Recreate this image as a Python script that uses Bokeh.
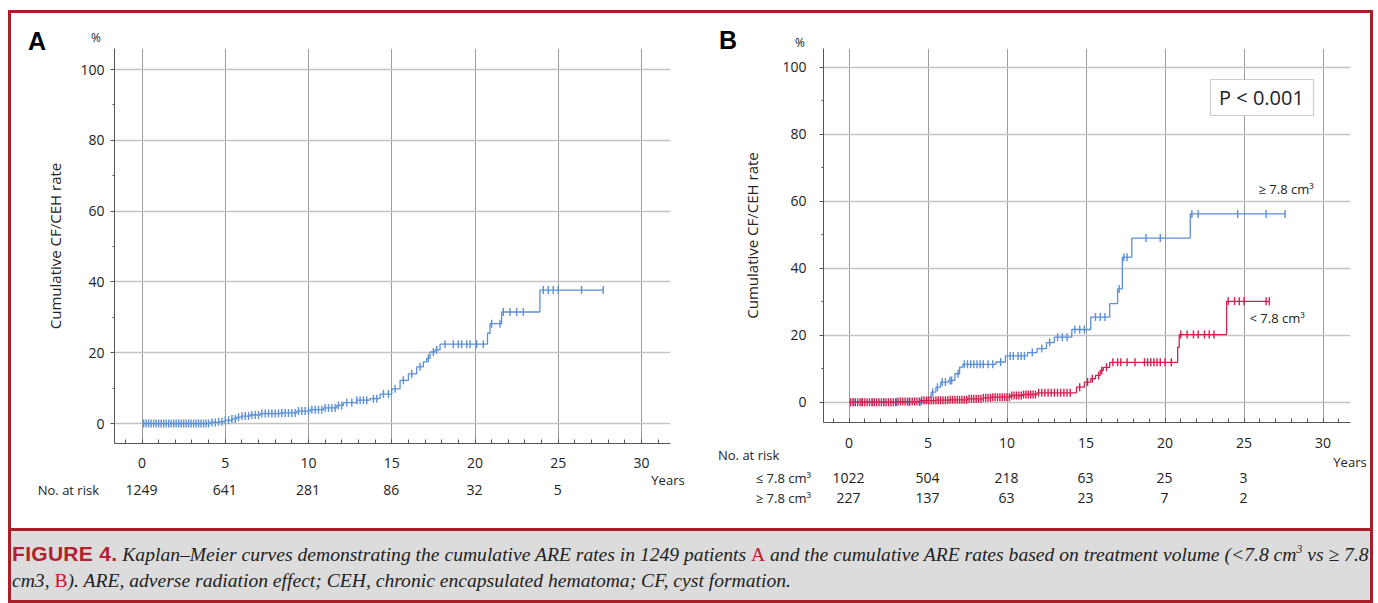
import numpy as np
from bokeh.plotting import figure
from bokeh.models import Range1d, FixedTicker, BoxAnnotation, Div, Label
from bokeh.layouts import row, column
from bokeh.core.properties import value
from bokeh.embed import file_html
from bokeh.resources import INLINE

# ---------------- data ----------------
x_ticks = [0, 5, 10, 15, 20, 25, 30]
y_ticks = [0, 20, 40, 60, 80, 100]
risk_years = [0, 5, 10, 15, 20, 25]

# Panel A: all patients
A_t = [0, 4.1, 4.6, 5.0, 5.4, 5.7, 6.0, 6.5, 7.1, 8.3, 9.3, 10.1, 10.9, 11.7, 12.1,
       12.9, 13.7, 14.3, 15.0, 15.5, 16.0, 16.5, 16.9, 17.1, 17.3, 17.6, 17.9,
       20.75, 20.9, 21.6, 23.9]
A_v = [0, 0.3, 0.5, 0.9, 1.3, 1.8, 2.1, 2.4, 2.8, 3.0, 3.5, 3.9, 4.4, 5.1, 5.9,
       6.6, 7.0, 8.3, 9.8, 12.2, 14.0, 16.0, 17.4, 18.4, 20.2, 20.8, 22.4,
       25.5, 28.2, 31.5, 37.7]
A_end = 27.7
A_cens = [0.1, 0.25, 0.4, 0.55, 0.7, 0.85, 1.0, 1.15, 1.3, 1.45, 1.6, 1.75, 1.9, 2.05,
          2.2, 2.35, 2.5, 2.65, 2.8, 2.95, 3.1, 3.25, 3.4, 3.55, 3.7, 3.85, 4.0, 4.2,
          4.4, 4.6, 4.8, 5.0, 5.2, 5.4, 5.6, 5.8, 6.0, 6.2, 6.4, 6.6, 6.8, 7.0, 7.2,
          7.4, 7.6, 7.8, 8.0, 8.2, 8.4, 8.6, 8.8, 9.0, 9.2, 9.4, 9.6, 9.8, 10.0, 10.2,
          10.4, 10.6, 10.8, 11.0, 11.2, 11.4, 11.6, 11.8, 12.0, 12.3, 12.6, 12.9, 13.1,
          13.3, 13.5, 13.9, 14.1, 14.5, 14.8, 15.2, 15.7, 16.2, 16.7, 17.2, 17.5, 17.7,
          18.2, 18.7, 19.0, 19.2, 19.5, 19.7, 20.1, 20.5, 21.0, 21.5, 21.7, 22.1, 22.5,
          22.9, 24.1, 24.4, 24.7, 25.0, 26.4, 27.7]
A_risk = ["1249", "641", "281", "86", "32", "5"]

# Panel B: >= 7.8 cm3
Bh_t = [0, 5.0, 5.2, 5.5, 5.8, 6.3, 6.7, 7.0, 7.2, 9.3, 9.9, 11.3, 11.9, 12.5, 13.0,
        14.1, 15.3, 16.5, 17.0, 17.3, 17.9, 21.6]
Bh_v = [0, 1.5, 3.0, 4.5, 6.0, 6.5, 8.5, 10.5, 11.3, 12.0, 13.8, 14.8, 16.0, 17.8, 19.4,
        21.7, 25.4, 29.4, 33.8, 43.3, 49.0, 56.2]
Bh_end = 27.6
Bh_cens = [0.3, 0.8, 1.5, 2.2, 3.0, 3.8, 4.5, 5.3, 5.6, 5.9, 6.1, 6.4, 6.5, 6.9, 7.3,
           7.5, 7.7, 7.9, 8.1, 8.3, 8.5, 8.8, 9.1, 9.6, 10.2, 10.4, 10.7, 10.9, 11.1,
           11.6, 12.2, 12.7, 13.2, 13.5, 13.8, 14.3, 14.6, 14.9, 15.6, 15.9, 16.2,
           17.1, 17.4, 17.6, 18.8, 19.7, 21.7, 22.1, 24.6, 26.4, 27.6]

# Panel B: < 7.8 cm3
Bl_t = [0, 3.0, 4.5, 5.5, 6.4, 7.5, 8.5, 9.0, 10.2, 11.0, 11.9, 14.4, 14.9, 15.3, 15.6,
        15.9, 16.1, 16.5, 20.8, 20.9, 23.9]
Bl_v = [0, 0.2, 0.5, 0.6, 0.7, 1.0, 1.3, 1.5, 2.0, 2.3, 2.8, 4.5, 6.0, 7.0, 8.0,
        9.5, 10.4, 11.9, 16.4, 20.2, 30.1]
Bl_end = 26.6
Bl_cens = [0.1, 0.25, 0.4, 0.55, 0.7, 0.85, 1.0, 1.15, 1.3, 1.45, 1.6, 1.75, 1.9, 2.05,
           2.2, 2.35, 2.5, 2.65, 2.8, 2.95, 3.1, 3.25, 3.4, 3.55, 3.7, 3.85, 4.0, 4.15,
           4.3, 4.45, 4.6, 4.75, 4.9, 5.05, 5.2, 5.35, 5.5, 5.65, 5.8, 5.95, 6.1, 6.25,
           6.4, 6.55, 6.7, 6.85, 7.0, 7.15, 7.3, 7.45, 7.6, 7.75, 7.9, 8.05, 8.2, 8.35,
           8.5, 8.65, 8.8, 8.95, 9.1, 9.25, 9.4, 9.55, 9.7, 9.85, 10.0, 10.15, 10.3,
           10.45, 10.6, 10.75, 10.9, 11.05, 11.2, 11.35, 11.5, 11.65, 11.8, 12.0, 12.2,
           12.4, 12.6, 12.8, 13.0, 13.2, 13.4, 13.6, 13.8, 14.0, 14.6, 15.1, 15.4, 15.8,
           16.0, 16.3, 16.7, 17.0, 17.2, 17.6, 18.1, 18.7, 18.9, 19.1, 19.3, 19.5, 19.7,
           20.0, 20.4, 21.0, 21.4, 21.8, 22.1, 22.5, 22.8, 23.1, 24.0, 24.4, 24.7, 25.0,
           26.4, 26.6]
B_risk_lo = ["1022", "504", "218", "63", "25", "3"]
B_risk_hi = ["227", "137", "63", "23", "7", "2"]

# ---------------- styling ----------------
RED_FRAME = "#a81f2b"
RED_T = "#b3202f"
BLUE = "#5b8fd8"
CRIMSON = "#d51f4f"
FONT = "Open Sans"
TXT = "#222222"

# window-pixel layout
X0, Y0 = 11, 13          # origin of the plot row (inside the red frame)
W_A, W_B = 680, 679
PANEL_H = 515
OV_W, OV_H = 1378, 603   # overlay covers the whole window


def main_panel(win_left, win_w, FL, FR, FT, FB, xr, yr,
               ylab_standoff, ytick_standoff, xtick_standoff):
    p = figure(frame_width=FR - FL, frame_height=FB - FT,
               x_range=Range1d(*xr), y_range=Range1d(*yr),
               output_backend="svg", toolbar_location=None, title=None,
               min_border_left=FL - win_left, min_border_right=win_left + win_w - FR,
               min_border_top=FT - Y0, min_border_bottom=Y0 + PANEL_H - FB)
    p.outline_line_color = None
    p.background_fill_color = None
    p.border_fill_color = None
    p.xaxis.ticker = FixedTicker(ticks=x_ticks, minor_ticks=list(range(-1, 32)))
    p.xaxis.major_tick_in = 4
    p.xaxis.major_tick_out = 0
    p.xaxis.minor_tick_in = 4
    p.xaxis.minor_tick_out = 0
    p.xaxis.major_label_standoff = xtick_standoff
    p.yaxis.ticker = FixedTicker(ticks=y_ticks, minor_ticks=[10, 30, 50, 70, 90])
    p.yaxis.major_tick_in = 0
    p.yaxis.major_tick_out = 4
    p.yaxis.minor_tick_in = 0
    p.yaxis.minor_tick_out = 2
    p.yaxis.major_label_standoff = ytick_standoff
    p.yaxis.axis_label = "Cumulative CF/CEH rate"
    p.yaxis.axis_label_standoff = ylab_standoff
    p.yaxis.axis_label_text_font_style = "normal"
    p.yaxis.axis_label_text_font_size = "15px"
    p.yaxis.axis_label_text_font = FONT
    p.yaxis.axis_label_text_color = TXT
    for ax in (p.xaxis, p.yaxis):
        ax.axis_line_color = "#555555"
        ax.major_tick_line_color = "#555555"
        ax.minor_tick_line_color = "#555555"
        ax.major_label_text_font = FONT
        ax.major_label_text_font_size = "14px"
        ax.major_label_text_color = TXT
    p.xgrid.ticker = FixedTicker(ticks=x_ticks)
    p.ygrid.ticker = FixedTicker(ticks=y_ticks)
    p.xgrid.grid_line_color = "#9c9c9c"
    p.xgrid.grid_line_width = 1
    p.ygrid.grid_line_color = "#c4c4c4"
    p.ygrid.grid_line_width = 1.6
    return p


def km(p, t, v, end, cens, color):
    xs = list(t) + [end]
    ys = list(v) + [v[-1]]
    p.step(x=xs, y=ys, mode="after", line_color=color, line_width=1.3)
    ta = np.array(t)
    va = np.array(v)
    idx = np.searchsorted(ta, np.array(cens), side="right") - 1
    p.scatter(x=cens, y=va[idx], marker="dash", angle=np.pi / 2, size=8,
              line_color=color, line_width=1.4)


def span(x, y, text, size=14, anchor="center", weight="normal", family=FONT, color=TXT):
    tx = {"center": "-50%", "right": "-100%", "left": "0"}[anchor]
    return ('<span style="position:absolute; left:%.1fpx; top:%.1fpx; '
            'transform:translate(%s,-50%%); white-space:nowrap; '
            'font-family:\'%s\', sans-serif; font-size:%spx; font-weight:%s; '
            'line-height:1; color:%s;">%s</span>'
            % (x, y, tx, family, size, weight, color, text))


def box(x1, y1, x2, y2, color):
    return ('<div style="position:absolute; left:%dpx; top:%dpx; width:%dpx; height:%dpx; '
            'background-color:%s;"></div>' % (x1, y1, x2 - x1, y2 - y1, color))


ov = []

# ---------------- Panel A ----------------
FLa, FRa, FTa, FBa = 114, 670, 48, 443
A0, A_ppy = 141.5, 16.65           # pixel of year 0, pixels per year
A_y0, A_ppp = 423.0, 3.54          # pixel of 0 %, pixels per percent
xrA = ((FLa - A0) / A_ppy, (FRa - A0) / A_ppy)
yrA = ((A_y0 - FBa) / A_ppp, (A_y0 - FTa) / A_ppp)

pA = main_panel(X0, W_A, FLa, FRa, FTa, FBa, xrA, yrA,
                ylab_standoff=12, ytick_standoff=6, xtick_standoff=14)
km(pA, A_t, A_v, A_end, A_cens, BLUE)

# ---------------- Panel B ----------------
XB = X0 + W_A
FLb, FRb, FTb, FBb = 823, 1350, 48, 422
B0, B_ppy = 848.5, 15.8
B_y0, B_ppp = 401.7, 3.35
xrB = ((FLb - B0) / B_ppy, (FRb - B0) / B_ppy)
yrB = ((B_y0 - FBb) / B_ppp, (B_y0 - FTb) / B_ppp)

pB = main_panel(XB, W_B, FLb, FRb, FTb, FBb, xrB, yrB,
                ylab_standoff=17, ytick_standoff=13, xtick_standoff=15)
km(pB, Bh_t, Bh_v, Bh_end, Bh_cens, BLUE)
km(pB, Bl_t, Bl_v, Bl_end, Bl_cens, CRIMSON)


def bx(px):
    return (px - B0) / B_ppy


def by(py):
    return (B_y0 - py) / B_ppp


pB.add_layout(BoxAnnotation(left=bx(1210), right=bx(1313), top=by(79), bottom=by(115),
                            fill_color="white", fill_alpha=1.0, line_color="#555555",
                            line_width=1.2))
pB.add_layout(Label(x=bx(1261), y=by(97), text="P < 0.001", text_font=FONT,
                    text_font_size="20px", text_align="center", text_baseline="middle",
                    text_color=TXT))
pB.text(x=[bx(1258)], y=[by(188)], text=["\u2265 7.8 cm\u00b3"], text_font=value(FONT),
        text_font_size=value("13px"), text_align="left", text_baseline="middle",
        text_color=TXT)
pB.text(x=[bx(1249)], y=[by(317)], text=["<  7.8 cm\u00b3"], text_font=value(FONT),
        text_font_size=value("13px"), text_align="left", text_baseline="middle",
        text_color=TXT)

# ---------------- overlay: frame, panel letters, risk tables, caption ----------------
ov.append(box(8, 10, 1373, 13, RED_FRAME))       # top
ov.append(box(8, 10, 11, 603, RED_FRAME))        # left
ov.append(box(1370, 10, 1373, 603, RED_FRAME))   # right
ov.append(box(8, 528, 1373, 531, RED_FRAME))     # separator
ov.append(box(8, 600, 1373, 603, RED_FRAME))     # bottom
ov.append(box(11, 531, 1370, 600, "#dcdcdc"))    # caption background

ov.append(span(28, 41, "A", size=25, anchor="left", weight="bold",
               family="Liberation Sans", color="black"))
ov.append(span(96, 38, "%", size=12))
ov.append(span(668, 480, "Years", size=13))
ov.append(span(99, 490, "No. at risk", size=13, anchor="right"))
for yr_, n in zip(risk_years, A_risk):
    ov.append(span(A0 + yr_ * A_ppy, 490, n, size=14))

ov.append(span(719, 40, "B", size=25, anchor="left", weight="bold",
               family="Liberation Sans", color="black"))
ov.append(span(800, 43, "%", size=12))
ov.append(span(1350, 462, "Years", size=13))
ov.append(span(718, 455, "No. at risk", size=13, anchor="left"))
ov.append(span(811, 478, "\u2264 7.8 cm\u00b3", size=13, anchor="right"))
ov.append(span(811, 498, "\u2265 7.8 cm\u00b3", size=13, anchor="right"))
for yr_, n in zip(risk_years, B_risk_lo):
    ov.append(span(B0 + yr_ * B_ppy, 478, n, size=14))
for yr_, n in zip(risk_years, B_risk_hi):
    ov.append(span(B0 + yr_ * B_ppy, 498, n, size=14))

red_span = '<span style="font-style:normal; color:' + RED_T + ';">%s</span>'
cap_line1 = (
    '<span style="font-family:\'Liberation Sans\', sans-serif; font-style:normal; '
    'font-weight:bold; font-size:21px; letter-spacing:0.3px; color:' + RED_T + ';">FIGURE 4.</span> '
    'Kaplan\u2013Meier curves demonstrating the cumulative ARE rates in 1249 patients '
    + red_span % "A" +
    ' and the cumulative ARE rates based on treatment volume (&lt;7.8 cm'
    '<sup style="font-size:0.6em; line-height:0;">3</sup> vs \u2265 7.8'
)
cap_line2 = ('cm3, ' + red_span % "B" +
             '). ARE, adverse radiation effect; CEH, chronic encapsulated hematoma; '
             'CF, cyst formation.')
cap_style = ('position:absolute; left:%dpx; top:%.1fpx; height:27px; line-height:27px; '
             'white-space:nowrap; font-family:\'Liberation Serif\', serif; font-style:italic; '
             'font-size:19.6px; color:#222;')
ov.append('<div style="' + cap_style % (12, 553 - 13.5) + '">' + cap_line1 + '</div>')
ov.append('<div style="' + cap_style % (12, 580 - 13.5) + '">' + cap_line2 + '</div>')

overlay = Div(text='<div style="position:relative; width:%dpx; height:%dpx;">%s</div>'
              % (OV_W, OV_H, "".join(ov)), width=OV_W, height=OV_H, margin=0)

plots = row(pA, pB, margin=(-(OV_H - Y0), 0, 0, X0))
root = column(overlay, plots)

open("out.html", "w").write(file_html(root, INLINE))
